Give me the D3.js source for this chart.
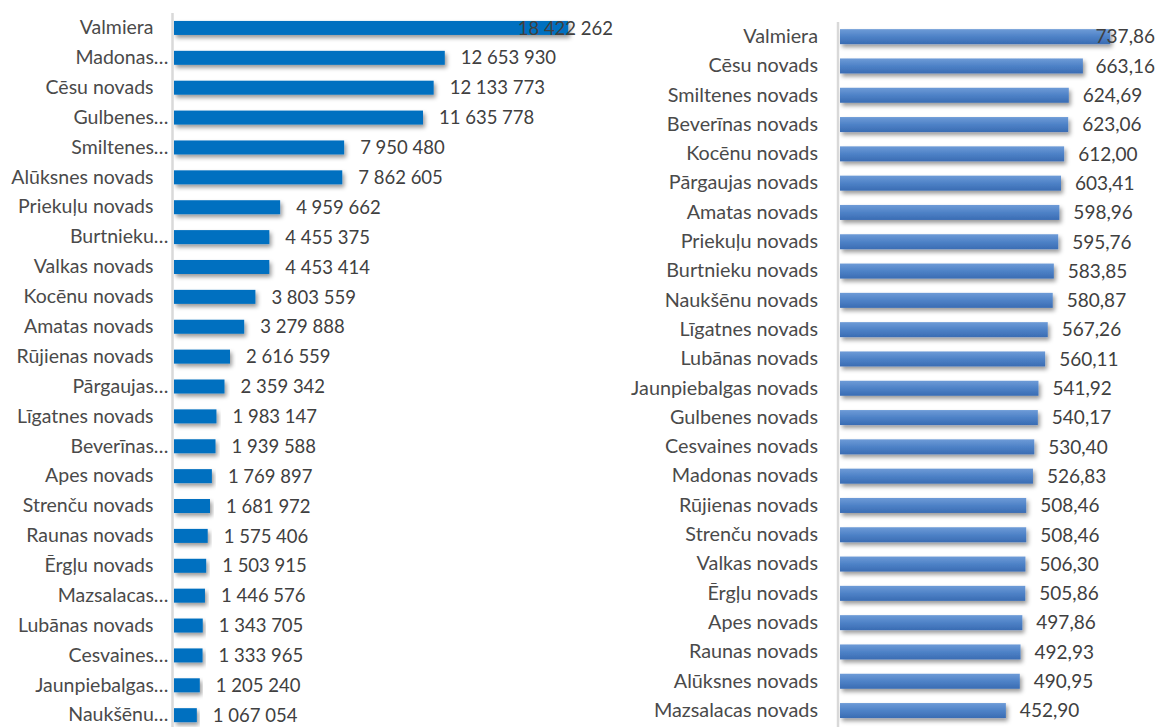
<!DOCTYPE html>
<html>
<head>
<meta charset="utf-8">
<script src="https://cdn.jsdelivr.net/npm/d3@7"></script>
<style>
  html, body { margin: 0; padding: 0; background: #fff; }
  svg { display: block; }
  text { font-family: Lato, "Open Sans", sans-serif; }
</style>
</head>
<body>
<svg id="chart" width="1159" height="727"></svg>
<script>
// ---------- DATA ----------
const leftCategories = [
  "Valmiera", "Madonas…", "Cēsu novads", "Gulbenes…", "Smiltenes…",
  "Alūksnes novads", "Priekuļu novads", "Burtnieku…", "Valkas novads",
  "Kocēnu novads", "Amatas novads", "Rūjienas novads", "Pārgaujas…",
  "Līgatnes novads", "Beverīnas…", "Apes novads", "Strenču novads",
  "Raunas novads", "Ērgļu novads", "Mazsalacas…", "Lubānas novads",
  "Cesvaines…", "Jaunpiebalgas…", "Naukšēnu…"
];
const leftValues = [
  18422262, 12653930, 12133773, 11635778, 7950480,
  7862605, 4959662, 4455375, 4453414,
  3803559, 3279888, 2616559, 2359342,
  1983147, 1939588, 1769897, 1681972,
  1575406, 1503915, 1446576, 1343705,
  1333965, 1205240, 1067054
];

const rightCategories = [
  "Valmiera", "Cēsu novads", "Smiltenes novads", "Beverīnas novads",
  "Kocēnu novads", "Pārgaujas novads", "Amatas novads", "Priekuļu novads",
  "Burtnieku novads", "Naukšēnu novads", "Līgatnes novads", "Lubānas novads",
  "Jaunpiebalgas novads", "Gulbenes novads", "Cesvaines novads", "Madonas novads",
  "Rūjienas novads", "Strenču novads", "Valkas novads", "Ērgļu novads",
  "Apes novads", "Raunas novads", "Alūksnes novads", "Mazsalacas novads"
];
const rightValues = [
  737.86, 663.16, 624.69, 623.06,
  612.00, 603.41, 598.96, 595.76,
  583.85, 580.87, 567.26, 560.11,
  541.92, 540.17, 530.40, 526.83,
  508.46, 508.46, 506.30, 505.86,
  497.86, 492.93, 490.95, 452.90
];

// ---------- SETUP ----------
const lv = d3.formatLocale({decimal: ",", thousands: " ", grouping: [3], currency: ["", ""]});
const fmtInt = lv.format(",d");
const fmtDec = lv.format(".2f");

const svg = d3.select("#chart");
const defs = svg.append("defs");

const shadow = defs.append("filter").attr("id", "shadow")
  .attr("x", "-5%").attr("y", "-40%").attr("width", "115%").attr("height", "200%");
shadow.append("feDropShadow").attr("dx", 2).attr("dy", 3)
  .attr("stdDeviation", 2).attr("flood-color", "#000").attr("flood-opacity", 0.4);

const grad = defs.append("linearGradient").attr("id", "blueGrad")
  .attr("x1", 0).attr("y1", 0).attr("x2", 0).attr("y2", 1);
grad.append("stop").attr("offset", "0%").attr("stop-color", "#6e9bd7");
grad.append("stop").attr("offset", "50%").attr("stop-color", "#4e82c7");
grad.append("stop").attr("offset", "100%").attr("stop-color", "#3a6cb3");

function drawChart(cfg) {
  const g = svg.append("g");
  const y = d3.scaleBand().domain(cfg.categories)
    .range([cfg.top, cfg.top + cfg.categories.length * cfg.step])
    .paddingInner(cfg.pad).paddingOuter(cfg.pad / 2);
  const x = d3.scaleLinear().domain(cfg.domain).range([cfg.barX0, cfg.barX1]);

  const data = cfg.categories.map((c, i) => ({c, v: cfg.values[i]}));

  // bars
  g.append("g").selectAll("rect").data(data).join("rect")
    .attr("x", x(0))
    .attr("y", d => y(d.c) + y.bandwidth() / 2 - cfg.barH / 2)
    .attr("width", d => x(d.v) - x(0))
    .attr("height", cfg.barH)
    .attr("fill", cfg.fill)
    .attr("filter", "url(#shadow)");

  // axis (category labels + domain line)
  const axis = d3.axisLeft(y).tickSize(0).tickSizeOuter(0).tickPadding(cfg.tickPad);
  const ag = g.append("g").attr("transform", `translate(${cfg.axisX},0)`).call(axis);
  ag.select(".domain").attr("stroke", "#d9d9d9").attr("stroke-width", 2.5)
    .attr("d", `M0,${cfg.top}V727`);
  ag.selectAll(".tick text")
    .attr("fill", "#4a4a4a")
    .style("font-family", "Lato, 'Open Sans', sans-serif")
    .style("font-size", cfg.catFont + "px")
    .attr("x", d => d.endsWith("…") ? -cfg.tickPadTrunc : -cfg.tickPad);

  // value labels
  g.append("g").selectAll("text").data(data).join("text")
    .attr("y", d => y(d.c) + y.bandwidth() / 2)
    .attr("dy", "0.36em")
    .attr("fill", "#404040")
    .style("font-size", cfg.valFont + "px")
    .text(d => cfg.fmt(d.v))
    .each(function (d) {
      const w = this.getComputedTextLength();
      let xx = x(d.v) + cfg.labelGap;
      if (xx + w > cfg.maxRight) xx = cfg.maxRight - w;
      d3.select(this).attr("x", xx);
    });
}

drawChart({
  categories: leftCategories, values: leftValues,
  top: 13, step: 29.88, pad: 0.5, barH: 14,
  domain: [0, 20000000], barX0: 174, barX1: 602,
  axisX: 172.5, tickPad: 19, tickPadTrunc: 4,
  fill: "#0070c0", fmt: fmtInt, labelGap: 16, maxRight: 613,
  catFont: 19.5, valFont: 18.5
});

drawChart({
  categories: rightCategories, values: rightValues,
  top: 22, step: 29.3, pad: 0.5, barH: 15,
  domain: [0, 800], barX0: 840, barX1: 1133,
  axisX: 838, tickPad: 20, tickPadTrunc: 20,
  fill: "url(#blueGrad)", fmt: fmtDec, labelGap: 14, maxRight: 1155,
  catFont: 19.8, valFont: 19
});
</script>
</body>
</html>
